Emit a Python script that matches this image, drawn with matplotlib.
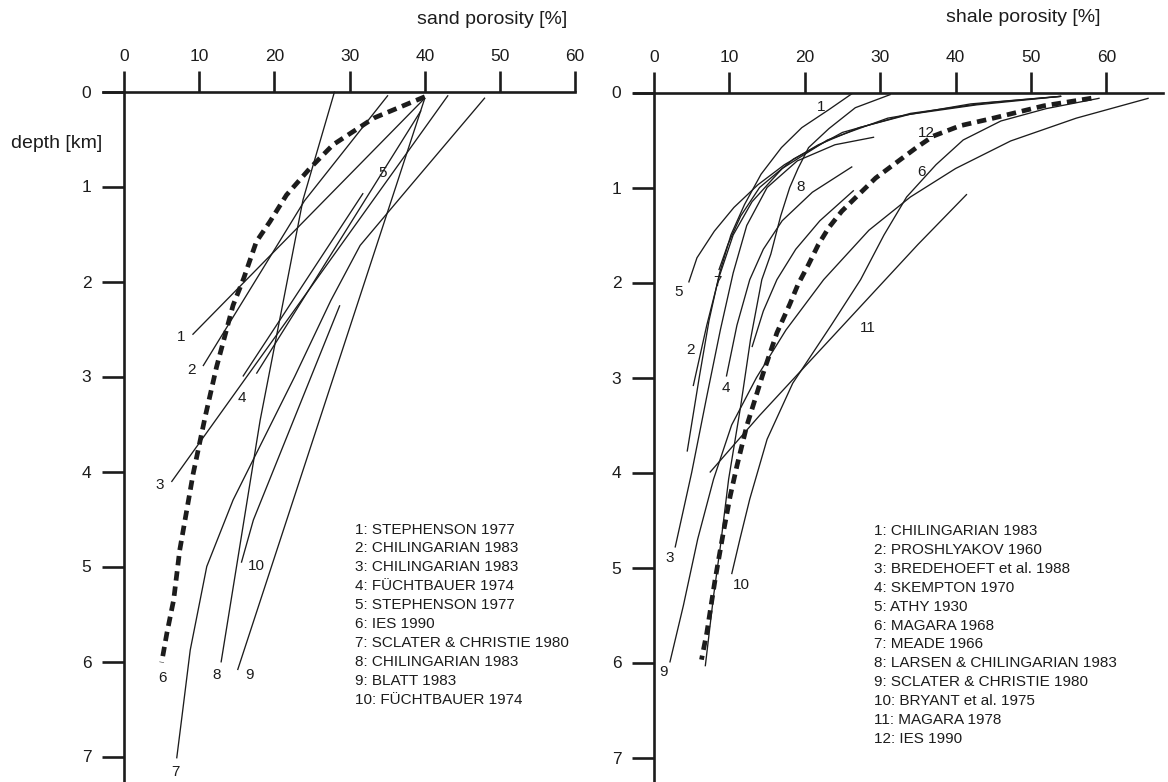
import matplotlib
matplotlib.use('Agg')
import matplotlib.pyplot as plt

plt.rcParams['font.family'] = ['Liberation Sans', 'DejaVu Sans']

W, H = 1168, 782
INK = '#1c1c1c'

# ---------------- data ----------------
porosity_ticks = [0, 10, 20, 30, 40, 50, 60]
depth_ticks = [0, 1, 2, 3, 4, 5, 6, 7]

# sand curves: (porosity %, depth km)
sand_1 = [(40.0, 0.07), (9.1, 2.56)]
sand_2 = [(35.1, 0.04), (24.0, 1.15), (10.5, 2.89)]
sand_3 = [(43.1, 0.04), (6.3, 4.11)]
sand_4 = [(31.8, 1.07), (15.8, 3.00)]
sand_5 = [(39.5, 0.20), (17.6, 2.97)]
sand_6 = [(40.0, 0.055), (33.2, 0.28), (27.8, 0.56), (24.7, 0.81), (21.6, 1.09),
          (19.4, 1.37), (17.6, 1.58), (15.9, 1.97), (14.5, 2.25), (12.3, 2.90),
          (10.8, 3.42), (9.2, 4.02), (7.4, 4.83), (6.6, 5.35), (5.7, 5.70), (5.0, 6.01)]
sand_7 = [(48.0, 0.065), (38.0, 1.0), (31.4, 1.62), (27.5, 2.2), (22.7, 3.0),
          (14.5, 4.3), (11.0, 5.0), (8.8, 5.88), (7.7, 6.58), (7.0, 7.02)]
sand_8 = [(28.0, 0.0), (23.8, 1.14), (18.1, 3.46), (12.9, 6.01)]
sand_9 = [(40.0, 0.07), (15.1, 6.09)]
sand_10 = [(28.7, 2.25), (17.2, 4.51), (15.6, 4.96)]
sand_dashed = '6'

sand_legend = ["1: STEPHENSON 1977", "2: CHILINGARIAN 1983", "3: CHILINGARIAN 1983",
               "4: FÜCHTBAUER 1974", "5: STEPHENSON 1977", "6: IES 1990",
               "7: SCLATER & CHRISTIE 1980", "8: CHILINGARIAN 1983", "9: BLATT 1983",
               "10: FÜCHTBAUER 1974"]

# shale curves: (porosity %, depth km)
shale_1 = [(26.3, 0.01), (23.2, 0.18), (19.6, 0.37), (16.9, 0.58), (14.2, 0.86),
           (12.0, 1.18), (10.2, 1.5), (8.7, 1.9), (7.3, 2.4), (6.0, 3.0), (4.4, 3.78)]
shale_2 = [(54.0, 0.04), (42.0, 0.12), (31.0, 0.27), (23.0, 0.5), (17.0, 0.8),
           (13.0, 1.15), (10.5, 1.5), (8.6, 1.95), (7.0, 2.45), (5.2, 3.09)]
shale_3 = [(29.2, 0.47), (24.0, 0.55), (19.0, 0.72), (15.0, 1.0), (12.3, 1.4),
           (10.5, 1.9), (8.8, 2.5), (7.0, 3.2), (5.0, 4.0), (2.8, 4.79)]
shale_4 = [(26.3, 0.78), (21.0, 1.05), (17.0, 1.35), (14.5, 1.65), (12.7, 1.97),
           (11.0, 2.45), (9.6, 2.99)]
shale_5 = [(54.0, 0.04), (42.8, 0.13), (33.9, 0.23), (27.2, 0.37), (21.8, 0.55),
           (17.3, 0.76), (13.8, 0.97), (10.6, 1.21), (8.0, 1.46), (5.7, 1.74), (4.6, 2.0)]
shale_6 = [(26.5, 1.03), (22.0, 1.35), (18.8, 1.65), (16.3, 1.97), (14.5, 2.3), (13.0, 2.68)]
shale_7 = [(54.0, 0.04), (44.0, 0.11), (34.0, 0.22), (25.0, 0.42), (18.5, 0.7),
           (14.0, 1.0), (11.5, 1.3), (9.8, 1.6), (8.6, 1.87)]
shale_8 = [(31.4, 0.02), (26.7, 0.16), (23.2, 0.38), (20.5, 0.58), (19.1, 0.8),
           (18.0, 1.0), (16.8, 1.3), (15.5, 1.7), (14.3, 1.97), (12.8, 2.6),
           (11.5, 3.3), (9.9, 4.07), (8.8, 4.78), (7.9, 5.3), (6.8, 6.04)]
shale_9 = [(65.6, 0.06), (56.0, 0.27), (47.3, 0.51), (40.0, 0.8), (34.0, 1.1),
           (28.5, 1.45), (22.5, 1.97), (17.5, 2.5), (13.6, 3.0), (10.3, 3.5),
           (7.9, 4.07), (5.8, 4.7), (3.9, 5.4), (2.1, 6.0)]
shale_10 = [(59.1, 0.06), (52.0, 0.17), (46.0, 0.3), (41.0, 0.5), (37.4, 0.76),
            (33.5, 1.1), (30.5, 1.5), (27.4, 1.97), (23.5, 2.45), (18.4, 3.06),
            (15.0, 3.65), (12.7, 4.28), (11.4, 4.7), (10.3, 5.07)]
shale_11 = [(41.5, 1.07), (35.0, 1.6), (28.0, 2.2), (21.0, 2.8), (14.0, 3.4), (7.4, 4.0)]
shale_12 = [(58.0, 0.06), (51.7, 0.14), (45.0, 0.27), (40.6, 0.35), (37.0, 0.46),
            (34.8, 0.58), (32.1, 0.74), (29.4, 0.90), (27.2, 1.07), (24.9, 1.25),
            (23.2, 1.42), (21.8, 1.60), (20.5, 1.81), (19.1, 2.02), (18.0, 2.23),
            (16.3, 2.53), (14.5, 2.95), (13.4, 3.23), (12.3, 3.51), (11.0, 3.93),
            (10.1, 4.25), (9.2, 4.63), (8.1, 5.13), (7.0, 5.69), (6.3, 5.97)]
shale_dashed = '12'

shale_legend = ["1: CHILINGARIAN 1983", "2: PROSHLYAKOV 1960", "3: BREDEHOEFT et al. 1988",
                "4: SKEMPTON 1970", "5: ATHY 1930", "6: MAGARA 1968", "7: MEADE 1966",
                "8: LARSEN & CHILINGARIAN 1983", "9: SCLATER & CHRISTIE 1980",
                "10: BRYANT et al. 1975", "11: MAGARA 1978", "12: IES 1990"]

sand_curves = [('1', sand_1), ('2', sand_2), ('3', sand_3), ('4', sand_4), ('5', sand_5),
               ('6', sand_6), ('7', sand_7), ('8', sand_8), ('9', sand_9), ('10', sand_10)]
shale_curves = [('1', shale_1), ('2', shale_2), ('3', shale_3), ('4', shale_4),
                ('5', shale_5), ('6', shale_6), ('7', shale_7), ('8', shale_8),
                ('9', shale_9), ('10', shale_10), ('11', shale_11), ('12', shale_12)]

# ---------------- layout ----------------
sand_label_pos = {'1': (7.6, 2.58), '2': (9.0, 2.93), '3': (4.8, 4.14), '4': (15.65, 3.23),
                  '5': (34.4, 0.86), '6': (5.05, 6.17), '7': (6.9, 7.16), '8': (12.3, 6.14),
                  '9': (16.75, 6.14), '10': (17.6, 5.0)}
shale_label_pos = {'1': (22.1, 0.15), '2': (4.8, 2.71), '3': (2.1, 4.90), '4': (9.5, 3.11),
                   '5': (3.3, 2.10), '6': (35.5, 0.84), '7': (8.4, 2.0), '8': (19.4, 0.99),
                   '9': (1.2, 6.10), '10': (11.6, 5.18), '11': (28.4, 2.48), '12': (36.1, 0.43)}

fig = plt.figure(figsize=(W / 100, H / 100), dpi=100)
fig.patch.set_facecolor('white')


def rect(xl, xr, yt, yb):
    return [xl / W, 1 - yb / H, (xr - xl) / W, (yb - yt) / H]


def setup(ax, xmin, xmax, ymax):
    ax.set_xlim(xmin, xmax)
    ax.set_ylim(ymax, 0)
    ax.patch.set_alpha(0)
    ax.spines['right'].set_visible(False)
    ax.spines['bottom'].set_visible(False)
    ax.spines['left'].set_position(('data', 0))
    for s in ('left', 'top'):
        ax.spines[s].set_linewidth(1.9)
        ax.spines[s].set_color(INK)
    ax.xaxis.set_ticks_position('top')
    ax.set_xticks(porosity_ticks)
    ax.set_xticklabels([str(t) for t in porosity_ticks])
    ax.set_yticks(depth_ticks)
    ax.set_yticklabels([str(t) for t in depth_ticks])
    ax.tick_params(axis='x', direction='out', length=15, width=1.9, pad=5,
                   labelsize=12.5, colors=INK)
    ax.tick_params(axis='y', direction='out', length=15.5, width=1.9, pad=8,
                   labelsize=12.5, colors=INK)


def draw(ax, curves, dashed, label_pos):
    for name, pts in curves:
        xs = [p[0] for p in pts]
        ys = [p[1] for p in pts]
        if name == dashed:
            ax.plot(xs, ys, color=INK, lw=3.4, dashes=(2.0, 1.25),
                    dash_capstyle='butt', solid_joinstyle='round', clip_on=False, zorder=3)
        else:
            ax.plot(xs, ys, color=INK, lw=0.95, solid_capstyle='butt',
                    solid_joinstyle='round', clip_on=False, zorder=2)
        lx, ly = label_pos[name]
        ax.text(lx, ly, name, ha='center', va='center', fontsize=11, color=INK)


# left panel (sand)
axL = fig.add_axes(rect(103, 575.2, 91.5, 782))
setup(axL, -2.8, 60, (782 - 91.5) / 95)
draw(axL, sand_curves, sand_dashed, sand_label_pos)

# right panel (shale)
axR = fig.add_axes(rect(634, 1163, 92.5, 782))
setup(axR, -2.65, 67.5, (782 - 92.5) / 95)
draw(axR, shale_curves, shale_dashed, shale_label_pos)

# titles
fig.text(567 / W, 1 - 20 / H, 'sand porosity [%]', ha='right', va='center', fontsize=14, color=INK)
fig.text(1100 / W, 1 - 18 / H, 'shale porosity [%]', ha='right', va='center', fontsize=14, color=INK)
fig.text(11 / W, 1 - 143 / H, 'depth [km]', ha='left', va='center', fontsize=14, color=INK)

# legends
for i, s in enumerate(sand_legend):
    fig.text(355 / W, 1 - (529.5 + i * 18.9) / H, s, ha='left', va='center',
             fontsize=11, color=INK)
for i, s in enumerate(shale_legend):
    fig.text(874 / W, 1 - (531 + i * 18.9) / H, s, ha='left', va='center',
             fontsize=11, color=INK)

fig.savefig('out.png', dpi=100, facecolor='white')
